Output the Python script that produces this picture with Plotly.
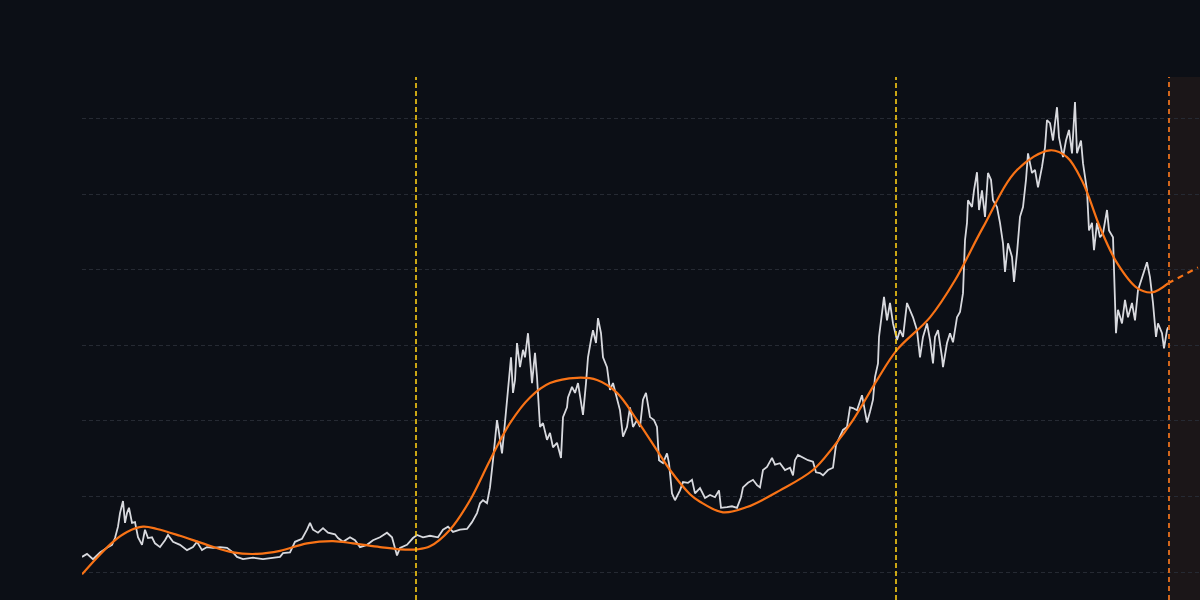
import plotly.graph_objects as go

# time in months since start of series
t_price = [0.0, 0.5, 1.1, 1.8, 2.5, 3.0, 3.3, 3.6, 3.8, 4.1, 4.3, 4.5, 4.7, 5.0, 5.3, 5.6, 6.0, 6.3, 6.6, 7.0,
           7.3, 7.8, 8.3, 8.6, 9.1, 9.8, 10.5, 11.1, 11.5, 12.0, 12.5, 13.1, 13.8, 14.5, 15.1, 15.5, 16.1, 17.1, 18.1, 19.1,
           19.8, 20.1, 20.8, 21.3, 22.0, 22.5, 22.8, 23.1, 23.6, 24.1, 24.6, 25.3, 25.6, 26.1, 26.8, 27.3, 27.8, 28.5, 29.1, 29.8,
           30.5, 31.0, 31.3, 31.5, 31.8, 32.5, 33.1, 33.5, 34.1, 34.8, 35.6, 36.1, 36.6, 37.1, 37.8, 38.5, 39.0, 39.5, 39.8, 40.1,
           40.5, 40.8, 41.1, 41.5, 41.7, 42.0, 42.2, 42.5, 42.6, 42.9, 43.1, 43.3, 43.5, 43.8, 44.1, 44.3, 44.6, 45.0, 45.3, 45.5,
           45.8, 46.1, 46.5, 46.8, 47.1, 47.5, 47.9, 48.1, 48.5, 48.6, 49.0, 49.3, 49.6, 50.0, 50.1, 50.4, 50.6, 50.9, 51.1, 51.4,
           51.6, 51.9, 52.1, 52.5, 52.8, 53.1, 53.5, 53.8, 54.1, 54.5, 54.8, 55.1, 55.5, 55.8, 56.1, 56.4, 56.8, 57.2, 57.5, 57.7,
           58.1, 58.5, 58.7, 59.0, 59.3, 59.8, 60.1, 60.6, 61.0, 61.3, 61.8, 62.3, 62.8, 63.3, 63.7, 63.9, 64.5, 65.0, 65.5, 65.9,
           66.1, 66.6, 67.1, 67.5, 67.8, 68.1, 68.5, 69.0, 69.3, 69.8, 70.3, 70.8, 71.1, 71.3, 71.6, 72.1, 72.6, 73.1, 73.4, 73.8,
           74.1, 74.6, 75.1, 75.4, 75.7, 76.1, 76.5, 76.8, 77.1, 77.5, 78.0, 78.3, 78.5, 78.8, 79.1, 79.3, 79.6, 79.7, 80.0, 80.2,
           80.5, 80.8, 81.1, 81.5, 81.8, 82.1, 82.5, 82.8, 83.1, 83.5, 83.8, 84.1, 84.5, 84.8, 85.1, 85.3, 85.6, 86.0, 86.1, 86.5,
           86.8, 87.1, 87.5, 87.8, 88.1, 88.3, 88.5, 88.6, 89.0, 89.2, 89.5, 89.7, 90.0, 90.3, 90.6, 90.9, 91.1, 91.5, 91.8, 92.1,
           92.3, 92.6, 93.0, 93.2, 93.5, 93.8, 94.1, 94.4, 94.6, 95.0, 95.3, 95.6, 96.0, 96.3, 96.5, 96.8, 97.1, 97.3, 97.5, 97.7,
           98.1, 98.4, 98.7, 99.0, 99.2, 99.3, 99.5, 99.9, 100.1, 100.5, 100.7, 101.0, 101.2, 101.5, 101.8, 102.1, 102.5, 102.7, 103.1, 103.3,
           103.4, 103.6, 104.0, 104.3, 104.6, 105.0, 105.3, 105.6, 106.0, 106.5, 106.8, 107.1, 107.4, 107.6, 108.0, 108.2, 108.5, 108.6]

price = [2.0, 2.4, 1.7, 2.6, 3.2, 3.6, 4.5, 6.0, 7.8, 9.4, 6.5, 7.8, 8.5, 6.5, 6.6, 4.6, 3.6, 5.6, 4.5, 4.6,
         3.8, 3.3, 4.2, 4.9, 4.0, 3.6, 2.9, 3.3, 4.0, 2.9, 3.3, 3.2, 3.3, 3.2, 2.6, 2.0, 1.7, 1.9, 1.7, 1.9,
         2.0, 2.5, 2.6, 4.0, 4.4, 5.6, 6.5, 5.6, 5.2, 5.8, 5.2, 5.0, 4.5, 4.0, 4.6, 4.2, 3.3, 3.6, 4.2, 4.6,
         5.2, 4.6, 3.3, 2.2, 3.2, 3.6, 4.5, 4.9, 4.6, 4.8, 4.6, 5.6, 6.0, 5.3, 5.6, 5.7, 6.6, 7.8, 9.1, 9.5,
         9.1, 11.2, 14.8, 20.1, 18.4, 15.7, 18.4, 22.8, 24.1, 28.4, 23.7, 25.4, 30.3, 27.1, 29.4, 28.4, 31.6, 25.0, 29.0, 25.8,
         19.2, 19.7, 17.5, 18.4, 16.5, 17.1, 15.1, 20.5, 21.8, 23.1, 24.5, 23.7, 25.0, 21.8, 20.8, 25.0, 28.4, 30.7, 32.0, 30.3,
         33.6, 31.6, 28.4, 27.1, 24.1, 25.0, 23.1, 21.4, 17.9, 19.2, 21.8, 19.2, 20.1, 19.2, 22.8, 23.7, 20.5, 20.1, 19.2, 14.8,
         14.4, 15.7, 14.4, 10.4, 9.5, 10.8, 11.9, 11.8, 12.2, 10.4, 11.1, 9.8, 10.2, 9.9, 10.8, 8.5, 8.6, 8.7, 8.5, 9.9,
         11.2, 11.8, 12.2, 11.5, 11.2, 13.5, 13.9, 15.1, 14.2, 14.4, 13.5, 13.8, 12.8, 14.8, 15.5, 15.1, 14.8, 14.6, 13.2, 13.1,
         12.8, 13.5, 13.8, 16.8, 17.7, 18.8, 19.2, 21.8, 21.7, 21.4, 23.4, 21.0, 19.8, 21.2, 22.8, 25.8, 27.6, 31.1, 34.3, 36.4,
         33.3, 35.6, 32.9, 30.7, 32.0, 31.1, 35.6, 34.7, 33.7, 32.0, 28.4, 31.1, 32.9, 30.7, 27.6, 31.1, 32.0, 28.4, 27.1, 30.3,
         31.6, 30.4, 33.7, 34.4, 36.9, 43.9, 46.2, 49.2, 48.3, 50.5, 52.9, 47.9, 50.5, 47.0, 52.8, 51.9, 49.2, 48.3, 46.2, 43.5,
         39.7, 43.5, 41.7, 38.4, 42.2, 47.0, 48.3, 51.9, 55.4, 52.8, 53.2, 50.9, 53.6, 56.2, 59.8, 59.4, 57.1, 59.4, 61.5, 57.5,
         54.9, 57.1, 58.5, 55.4, 60.7, 62.2, 55.4, 57.1, 54.1, 50.5, 45.2, 46.2, 42.6, 46.2, 44.3, 44.8, 47.9, 45.2, 44.3, 35.6,
         31.6, 34.7, 32.9, 36.0, 33.7, 35.6, 33.3, 37.3, 39.0, 41.0, 39.0, 35.6, 31.1, 32.9, 31.6, 29.6, 32.0, 32.4]

t_trend = [0.0, 1.5, 3.1, 4.5, 6.1, 7.5, 9.8, 12.5, 15.1, 17.5, 19.8, 22.5, 25.1, 27.1, 29.8, 31.8, 33.5, 34.8,
           36.8, 38.8, 40.8, 42.8, 44.8, 46.8, 49.5, 51.5, 53.5, 55.5, 57.5, 58.8, 60.8, 61.8, 64.1, 66.5, 69.8,
           73.1, 75.1, 77.1, 79.5, 81.5, 84.8, 87.3, 90.1, 93.5, 96.8, 98.5, 100.1, 101.8, 103.5, 105.5, 107.0, 108.6]
trend = [-0.3, 1.9, 4.0, 5.3, 6.0, 5.7, 4.8, 3.6, 2.6, 2.4, 2.8, 3.8, 4.1, 3.8, 3.3, 3.0, 3.0, 3.4,
         5.6, 9.5, 14.8, 19.7, 23.1, 25.0, 25.7, 25.4, 23.7, 20.1, 16.1, 13.5, 10.3, 9.3, 7.9, 8.6, 10.8,
         13.5, 16.5, 20.1, 25.4, 29.4, 33.7, 38.6, 45.6, 53.2, 55.8, 54.9, 51.5, 45.6, 40.9, 37.6, 37.0, 38.2]

t_forecast = [108.6, 110.1, 111.6]
forecast = [38.2, 39.3, 40.3]

cycle_markers = [33.4, 81.4]
today = 108.7
x_end = 111.8

BG = "#0c0f16"

fig = go.Figure()
fig.add_trace(go.Scatter(x=t_price, y=price, mode="lines",
                         line=dict(color="#d8d9de", width=1.8), hoverinfo="skip"))
fig.add_trace(go.Scatter(x=t_trend, y=trend, mode="lines",
                         line=dict(color="#f97316", width=2.2, shape="spline", smoothing=1.0), hoverinfo="skip"))
fig.add_trace(go.Scatter(x=t_forecast, y=forecast, mode="lines",
                         line=dict(color="#f97316", width=2.2, dash="6px,5px"), hoverinfo="skip"))

shapes = [dict(type="rect", xref="x", yref="paper", x0=today, x1=x_end + 5, y0=0, y1=1,
               fillcolor="#1b1618", line=dict(width=0), layer="below")]
for m in cycle_markers:
    shapes.append(dict(type="line", xref="x", yref="paper", x0=m, x1=m, y0=0, y1=1,
                       line=dict(color="#facc15", width=1.6, dash="5px,3px")))
shapes.append(dict(type="line", xref="x", yref="paper", x0=today, x1=today, y0=0, y1=1,
                   line=dict(color="#d2661c", width=2, dash="5px,4px")))

fig.update_layout(
    width=1200, height=600,
    margin=dict(l=82, r=0, t=77, b=0),
    paper_bgcolor=BG, plot_bgcolor=BG,
    showlegend=False,
    shapes=shapes,
    xaxis=dict(range=[0, x_end], showgrid=False, zeroline=False, showticklabels=False,
               showline=False, ticks=""),
    yaxis=dict(range=[-3.7, 65.5], dtick=10, tick0=0, showgrid=True, gridcolor="#262a33",
               griddash="4px,3px", gridwidth=1, zeroline=False, showticklabels=False,
               showline=False, ticks=""),
)

fig.write_html("out.html")
